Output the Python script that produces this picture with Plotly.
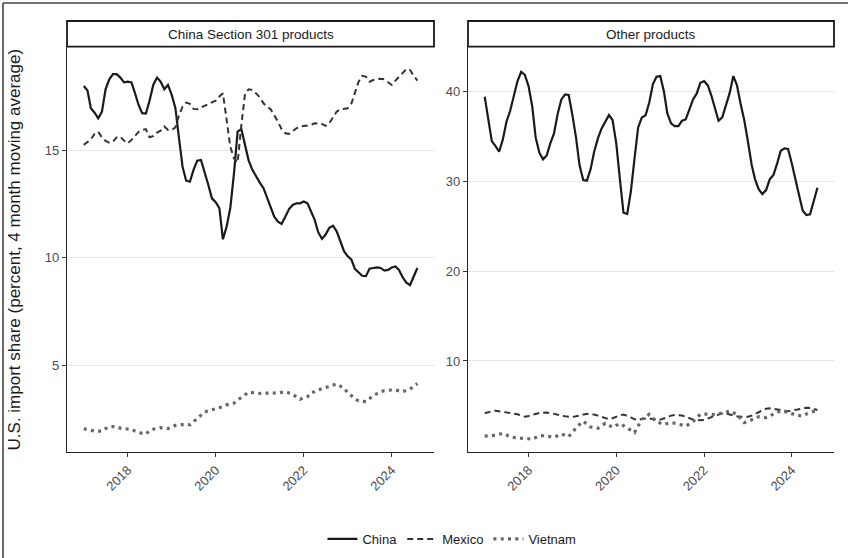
import plotly.graph_objects as go
import pandas as pd

# ---- data (monthly, 4-month moving average, percent) ----
dates = pd.date_range("2017-01-01", "2024-08-01", freq="MS").strftime("%Y-%m-%d").tolist()

panel_titles = ["China Section 301 products", "Other products"]
countries = ["China", "Mexico", "Vietnam"]
y_title = "U.S. import share (percent, 4 month moving average)"

china_301 = [17.97, 17.76, 16.94, 16.73, 16.47, 16.78, 17.82, 18.28, 18.52, 18.52, 18.36, 18.14,
             18.17, 18.14, 17.66, 17.09, 16.71, 16.69, 17.29, 18.02, 18.36, 18.17, 17.82, 18.02,
             17.56, 16.94, 15.62, 14.23, 13.58, 13.53, 14.08, 14.51, 14.54, 14.00, 13.38, 12.76,
             12.58, 12.30, 10.86, 11.45, 12.30, 13.92, 15.85, 15.97, 15.19, 14.51, 14.08, 13.77,
             13.49, 13.23, 12.84, 12.37, 11.91, 11.68, 11.57, 11.91, 12.26, 12.45, 12.53, 12.53,
             12.61, 12.53, 12.16, 11.77, 11.19, 10.88, 11.08, 11.39, 11.49, 11.23, 10.77, 10.31,
             10.07, 9.92, 9.49, 9.33, 9.17, 9.15, 9.50, 9.53, 9.56, 9.53, 9.41, 9.44,
             9.55, 9.60, 9.44, 9.10, 8.85, 8.74, 9.10, 9.53]
mexico_301 = [15.24, 15.39, 15.50, 15.75, 15.85, 15.59, 15.42, 15.34, 15.39, 15.59, 15.62, 15.44,
              15.31, 15.47, 15.65, 15.84, 15.93, 15.97, 15.59, 15.65, 15.81, 15.90, 16.09, 15.93,
              15.93, 16.05, 16.58, 17.01, 17.20, 17.14, 16.91, 16.89, 16.97, 17.05, 17.14, 17.20,
              17.29, 17.48, 17.63, 16.40, 15.16, 14.62, 14.42, 16.16, 17.63, 17.82, 17.79, 17.63,
              17.45, 17.17, 17.01, 16.89, 16.63, 16.32, 15.97, 15.78, 15.75, 15.90, 16.01, 16.09,
              16.12, 16.12, 16.16, 16.24, 16.24, 16.21, 16.12, 16.24, 16.52, 16.78, 16.89, 16.92,
              16.94, 17.17, 17.63, 18.17, 18.44, 18.41, 18.17, 18.25, 18.28, 18.31, 18.28, 18.13,
              18.02, 18.22, 18.38, 18.56, 18.75, 18.72, 18.44, 18.22]
vietnam_301 = [2.07, 2.05, 2.00, 1.97, 1.96, 1.96, 2.08, 2.17, 2.17, 2.17, 2.10, 2.06,
               2.06, 2.05, 1.97, 1.89, 1.85, 1.83, 1.98, 2.05, 2.09, 2.12, 2.10, 2.08,
               2.15, 2.23, 2.26, 2.28, 2.27, 2.25, 2.40, 2.54, 2.70, 2.85, 2.90, 2.95,
               3.00, 3.04, 3.10, 3.18, 3.22, 3.26, 3.40, 3.53, 3.66, 3.77, 3.75, 3.72,
               3.71, 3.70, 3.72, 3.75, 3.73, 3.72, 3.76, 3.79, 3.73, 3.67, 3.55, 3.44,
               3.50, 3.56, 3.75, 3.79, 3.87, 3.95, 3.99, 4.03, 4.09, 4.15, 4.05, 3.95,
               3.75, 3.59, 3.47, 3.36, 3.35, 3.33, 3.47, 3.61, 3.70, 3.79, 3.84, 3.87,
               3.87, 3.87, 3.83, 3.79, 3.85, 3.91, 4.04, 4.17]

china_other = [39.37, 36.78, 34.44, 33.89, 33.26, 34.63, 36.59, 37.81, 39.37, 41.11, 42.15, 41.81,
               40.56, 38.26, 34.85, 33.15, 32.41, 32.85, 34.19, 35.30, 37.52, 39.07, 39.63, 39.56,
               37.33, 34.74, 31.78, 30.11, 30.04, 31.30, 33.26, 34.74, 35.85, 36.59, 37.33, 36.78,
               34.19, 30.11, 26.48, 26.33, 28.81, 32.52, 35.96, 37.07, 37.30, 38.70, 40.78, 41.59,
               41.67, 39.93, 37.52, 36.41, 36.11, 36.11, 36.70, 36.85, 37.89, 39.07, 39.74, 40.93,
               41.11, 40.63, 39.56, 38.07, 36.70, 37.07, 38.26, 39.74, 41.67, 40.67, 38.56, 36.78,
               34.37, 31.78, 30.19, 29.07, 28.56, 29.00, 30.19, 30.67, 31.96, 33.37, 33.63, 33.56,
               31.96, 30.30, 28.44, 26.70, 26.22, 26.30, 27.89, 29.26]
mexico_other = [4.19, 4.33, 4.41, 4.48, 4.41, 4.37, 4.33, 4.26, 4.19, 4.07, 3.93, 3.81,
                3.89, 4.04, 4.11, 4.22, 4.26, 4.26, 4.22, 4.15, 4.04, 3.93, 3.85, 3.78,
                3.78, 3.85, 3.96, 4.04, 4.11, 4.11, 4.04, 3.93, 3.78, 3.63, 3.52, 3.63,
                3.81, 3.96, 4.04, 3.93, 3.74, 3.52, 3.44, 3.56, 3.63, 3.63, 3.52, 3.44,
                3.48, 3.59, 3.74, 3.93, 4.00, 3.96, 3.93, 3.81, 3.63, 3.48, 3.41, 3.41,
                3.44, 3.59, 3.78, 3.93, 4.04, 4.15, 4.15, 4.04, 3.93, 3.85, 3.81, 3.81,
                3.81, 3.93, 4.11, 4.33, 4.52, 4.70, 4.74, 4.67, 4.59, 4.52, 4.44, 4.41,
                4.48, 4.56, 4.59, 4.70, 4.81, 4.78, 4.67, 4.56]
vietnam_other = [1.65, 1.67, 1.70, 1.74, 1.85, 1.96, 1.78, 1.59, 1.50, 1.41, 1.41, 1.41,
                 1.36, 1.30, 1.50, 1.70, 1.69, 1.67, 1.60, 1.52, 1.70, 1.89, 1.74, 1.59,
                 2.10, 2.59, 2.95, 3.30, 3.00, 2.67, 2.60, 2.52, 2.80, 3.07, 2.85, 2.63,
                 2.85, 3.04, 2.80, 2.59, 2.30, 2.04, 2.80, 3.52, 3.80, 4.07, 3.65, 3.26,
                 3.10, 2.96, 3.05, 3.15, 3.08, 3.00, 2.90, 2.78, 3.00, 3.26, 3.70, 4.07,
                 4.10, 4.11, 4.08, 4.04, 4.10, 4.19, 4.30, 4.44, 4.25, 4.07, 3.60, 3.15,
                 3.30, 3.44, 3.60, 3.81, 3.75, 3.70, 3.90, 4.11, 4.30, 4.48, 4.40, 4.30,
                 4.15, 4.00, 3.95, 3.89, 4.10, 4.30, 4.40, 4.48]

x_tickvals = ["2018-01-01", "2020-01-01", "2022-01-01", "2024-01-01"]
x_ticktext = ["2018", "2020", "2022", "2024"]
y_ticks_left = [5, 10, 15]
y_ticks_right = [10, 20, 30, 40]

# ---- styles ----
FONT = "Liberation Sans, Arial, Helvetica, sans-serif"
styles = {
    "China": dict(color="#1a1a1a", width=2.2, dash="solid"),
    "Mexico": dict(color="#333333", width=2.0, dash="6px,4px"),
    "Vietnam": dict(color="#666666", width=3.2, dash="3px,4.3px"),
}

fig = go.Figure()
panels = [
    ("x", "y", [china_301, mexico_301, vietnam_301], True),
    ("x2", "y2", [china_other, mexico_other, vietnam_other], False),
]
for xa, ya, series, show in panels:
    for name, vals in zip(countries, series):
        fig.add_trace(go.Scatter(
            x=dates, y=vals, mode="lines", name=name, legendgroup=name,
            showlegend=show, xaxis=xa, yaxis=ya,
            line=styles[name],
        ))

W, H = 848, 558
def px(xp):
    return xp / W
def py(yp):
    return 1 - yp / H

left_dom = [px(67), px(434)]
right_dom = [px(468), px(834)]
y_dom = [py(452.3), py(47)]
xrange = ["2016-08-15", "2024-12-17"]

axis_common = dict(
    showline=True, linecolor="#222222", linewidth=1.2,
    ticks="outside", ticklen=4, tickcolor="#333333", tickwidth=1,
    tickfont=dict(family=FONT, size=13, color="#4d4d4d"),
    zeroline=False,
)

fig.update_layout(
    width=W, height=H,
    margin=dict(l=0, r=0, t=0, b=0),
    paper_bgcolor="white", plot_bgcolor="white",
    font=dict(family=FONT, color="#1a1a1a"),
    xaxis=dict(domain=left_dom, type="date", range=xrange, tickvals=x_tickvals,
               ticktext=x_ticktext, tickangle=-45, showgrid=False, anchor="y", **axis_common),
    xaxis2=dict(domain=right_dom, type="date", range=xrange, tickvals=x_tickvals,
                ticktext=x_ticktext, tickangle=-45, showgrid=False, anchor="y2", **axis_common),
    yaxis=dict(domain=y_dom, range=[0.98, 19.78], tickvals=y_ticks_left,
               showgrid=True, gridcolor="#e6e6e6", gridwidth=1, anchor="x",
               title=dict(text=y_title, standoff=19,
                          font=dict(family=FONT, size=17, color="#1a1a1a")),
               **axis_common),
    yaxis2=dict(domain=y_dom, range=[-0.15, 44.9], tickvals=y_ticks_right,
                showgrid=True, gridcolor="#e6e6e6", gridwidth=1, anchor="x2", **axis_common),
    legend=dict(orientation="h", x=0.533, xanchor="center", y=py(539), yanchor="middle",
                font=dict(family=FONT, size=13, color="#1a1a1a"), itemwidth=30,
                bgcolor="rgba(0,0,0,0)", tracegroupgap=0),
    showlegend=True,
)

shapes = []
annotations = []
# strips
for dom, title in zip([left_dom, right_dom], panel_titles):
    shapes.append(dict(type="rect", xref="paper", yref="paper",
                       x0=dom[0], x1=dom[1], y0=py(46.7), y1=py(21),
                       line=dict(color="#1a1a1a", width=1.8), fillcolor="white", layer="above"))
    annotations.append(dict(xref="paper", yref="paper", x=(dom[0] + dom[1]) / 2, y=py(34),
                            text=title, showarrow=False, xanchor="center", yanchor="middle",
                            font=dict(family=FONT, size=13.5, color="#1a1a1a")))
# outer frame (top and left edges)
shapes.append(dict(type="line", xref="paper", yref="paper", x0=px(3), x1=1, y0=py(3), y1=py(3),
                   line=dict(color="#444444", width=1.6)))
shapes.append(dict(type="line", xref="paper", yref="paper", x0=px(3), x1=px(3), y0=py(3), y1=0,
                   line=dict(color="#444444", width=1.6)))

fig.update_layout(shapes=shapes, annotations=annotations)

fig.write_html("out.html")
